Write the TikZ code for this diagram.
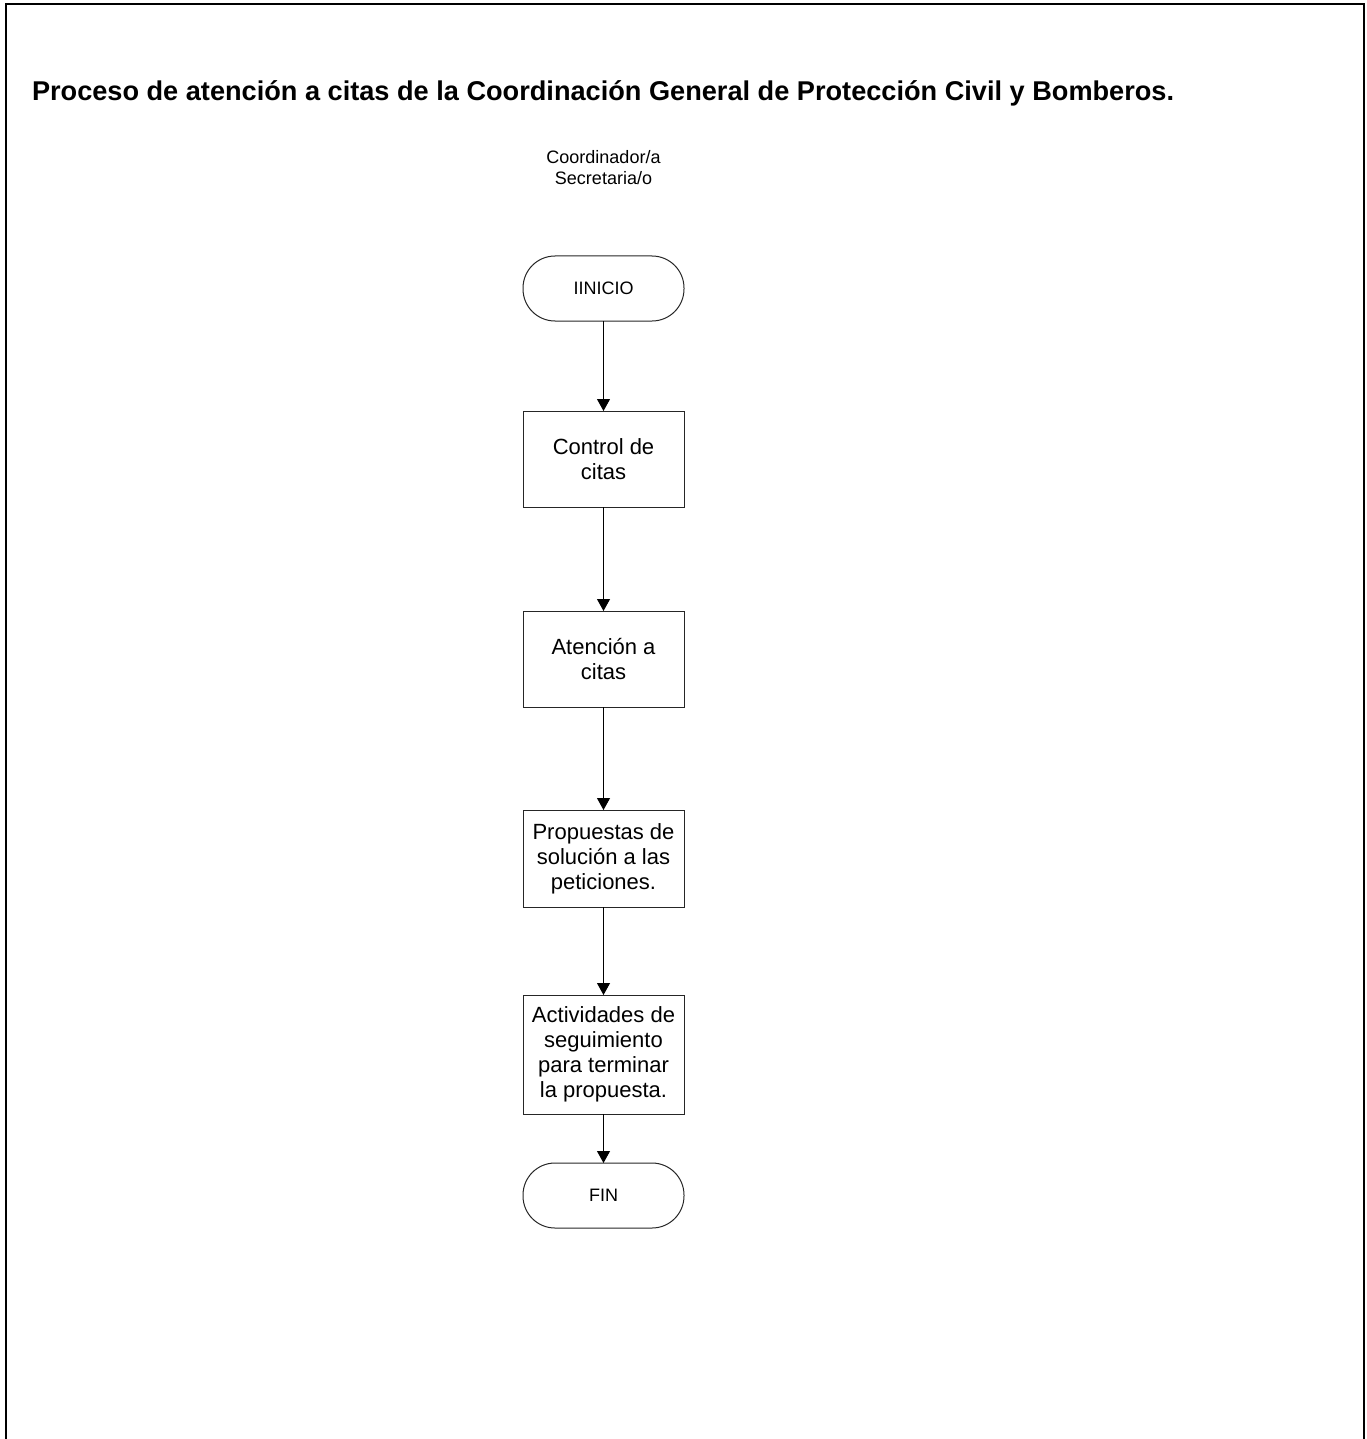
\documentclass[tikz,border=0pt]{standalone}
\usepackage{fontspec}
\setmainfont{Liberation Sans}
\usetikzlibrary{arrows.meta}

\begin{document}
\begin{tikzpicture}[x=1pt,y=-1pt,
    every node/.style={inner sep=0pt, outer sep=0pt},
    procbox/.style={draw=black!85, line width=1pt, rectangle, minimum width=161pt,
        align=center, font=\fontsize{22}{25}\selectfont},
    terminal/.style={draw=black!85, line width=1pt, rectangle, rounded corners=32pt,
        minimum width=161pt, minimum height=65pt, font=\fontsize{18}{21}\selectfont},
    flow/.style={draw=black, line width=1pt, -{Triangle[width=13pt,length=12pt]}}]

  % page extent
  \useasboundingbox (0,0) rectangle (1366,1439);

  % outer frame, open at the bottom
  \draw[line width=2pt] (6,1439) -- (6,4) -- (1364,4) -- (1364,1439);

  % title
  \node[anchor=base west] (title) at (32,101)
    {\resizebox{1142pt}{!}{\bfseries Proceso de atención a citas de la Coordinación General de Protección Civil y Bomberos.}};

  % lane heading
  \node[align=center, font=\fontsize{18}{21}\selectfont] (lane) at (603.5,168)
    {Coordinador/a\\Secretaria/o};

  % flow steps
  \node[terminal] (inicio) at (603.5,288.5) {IINICIO};
  \node[procbox, minimum height=96pt] (control) at (603.5,459) {Control de\\citas};
  \node[procbox, minimum height=96pt] (atencion) at (603.5,659) {Atención a\\citas};
  \node[procbox, minimum height=97pt] (propuestas) at (603.5,858.5) {Propuestas de\\solución a las\\peticiones.};
  \node[procbox, minimum height=119pt] (actividades) at (603.5,1054.5) {Actividades de\\seguimiento\\para terminar\\la propuesta.};
  \node[terminal] (fin) at (603.5,1195.5) {FIN};

  % connectors
  \draw[flow] (inicio) -- (control);
  \draw[flow] (control) -- (atencion);
  \draw[flow] (atencion) -- (propuestas);
  \draw[flow] (propuestas) -- (actividades);
  \draw[flow] (actividades) -- (fin);
\end{tikzpicture}
\end{document}
